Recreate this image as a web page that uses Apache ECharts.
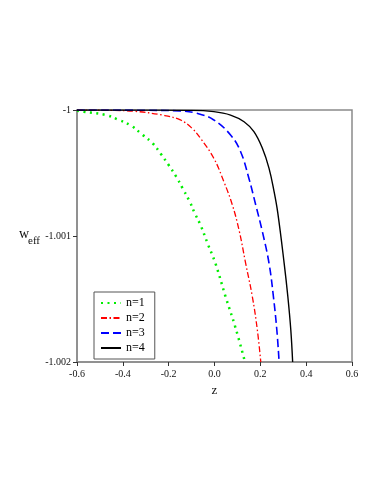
<!DOCTYPE html>
<html>
<head>
<meta charset="utf-8">
<script src="https://cdn.jsdelivr.net/npm/echarts@6/dist/echarts.min.js"></script>
<style>
  html, body { margin: 0; padding: 0; background: #fff; }
  #graph { width: 383px; height: 495px; }
</style>
</head>
<body>
<div id="graph"></div>
<script>
// values
var seriesNames = ['n=1', 'n=2', 'n=3', 'n=4'];

var z1 = [-0.6, -0.573, -0.474, -0.42, -0.364, -0.317, -0.27, -0.234, -0.2, -0.167, -0.139, -0.11, -0.086, -0.061, -0.03, 0.004, 0.048, 0.092, 0.133];
var w1 = [-1.000005, -1.000013, -1.00004, -1.000077, -1.000124, -1.000193, -1.000264, -1.000349, -1.000437, -1.000529, -1.000622, -1.00072, -1.00082, -1.000913, -1.00106, -1.001217, -1.00148, -1.00173, -1.002];

var z2 = [-0.6, -0.45, -0.35, -0.229, -0.149, -0.098, -0.061, -0.003, 0.041, 0.078, 0.107, 0.136, 0.165, 0.187, 0.202];
var w2 = [-1.0, -1.000003, -1.00001, -1.00004, -1.000079, -1.000145, -1.000225, -1.000383, -1.000569, -1.000754, -1.000952, -1.001217, -1.00148, -1.001746, -1.002];

var z3 = [-0.6, -0.3, -0.149, -0.076, -0.003, 0.07, 0.114, 0.15, 0.18, 0.209, 0.238, 0.257, 0.272, 0.282];
var w3 = [-1.0, -1.000002, -1.000008, -1.000026, -1.000079, -1.000198, -1.000331, -1.000542, -1.000754, -1.000966, -1.001217, -1.00148, -1.001746, -1.002];

var z4 = [-0.6, -0.1, -0.003, 0.07, 0.129, 0.172, 0.209, 0.238, 0.26, 0.276, 0.304, 0.32, 0.333, 0.341];
var w4 = [-1.0, -1.000003, -1.000013, -1.00004, -1.000093, -1.000172, -1.000304, -1.000463, -1.000648, -1.000815, -1.001217, -1.00148, -1.001746, -1.002];

var colors = ['#00ee00', '#ff0000', '#0000ff', '#000000'];

function pairs(zs, ws) {
  var out = [];
  for (var i = 0; i < zs.length; i++) out.push([zs[i], ws[i]]);
  return out;
}

var dom = document.getElementById('graph');
var myChart = echarts.init(dom);
var serif = 'Liberation Serif';

var option = {
  animation: false,
  color: colors,
  textStyle: { fontFamily: serif },
  grid: {
    left: 77, right: 31, top: 110, bottom: 133,
    show: true, borderColor: '#8a8a8a', borderWidth: 1.5
  },
  legend: {
    orient: 'vertical',
    left: 94, top: 292,
    padding: [5, 10, 5, 6],
    itemGap: 3,
    itemWidth: 20,
    itemHeight: 10,
    borderColor: '#555',
    borderWidth: 1,
    itemStyle: { opacity: 0 },
    textStyle: { fontFamily: serif, fontSize: 12, color: '#000' },
    data: seriesNames
  },
  xAxis: {
    type: 'value',
    min: -0.6, max: 0.6, interval: 0.2,
    name: 'z',
    nameLocation: 'middle',
    nameGap: 22,
    nameTextStyle: { fontFamily: serif, fontSize: 13, color: '#111' },
    axisLine: { onZero: false, lineStyle: { color: '#8a8a8a', width: 1.5 } },
    axisTick: { inside: false, length: 4, lineStyle: { color: '#333' } },
    axisLabel: {
      margin: 7, fontFamily: serif, fontSize: 10, color: '#111',
      formatter: function (v) { return (Math.round(v * 10) / 10).toFixed(1); }
    },
    splitLine: { show: false }
  },
  yAxis: {
    type: 'value',
    min: -1.002, max: -1, interval: 0.001,
    axisLine: { show: true, onZero: false, lineStyle: { color: '#8a8a8a', width: 1.5 } },
    axisTick: { show: true, length: 4, lineStyle: { color: '#333' } },
    axisLabel: {
      margin: 6, fontFamily: serif, fontSize: 10, color: '#111',
      formatter: function (v) { return String(parseFloat(v.toFixed(3))); }
    },
    splitLine: { show: false }
  },
  graphic: [
    { type: 'text', left: 19, top: 227, style: { text: 'w', fontFamily: serif, fontSize: 14, fill: '#111' } },
    { type: 'text', left: 28, top: 236, style: { text: 'eff', fontFamily: serif, fontSize: 11, fill: '#111' } }
  ],
  series: [
    {
      name: seriesNames[0], type: 'line', smooth: 0.4, symbol: 'none',
      lineStyle: { color: colors[0], width: 2.5, type: [2, 4.5], cap: 'butt' },
      data: pairs(z1, w1)
    },
    {
      name: seriesNames[1], type: 'line', smooth: 0.4, symbol: 'none',
      lineStyle: { color: colors[1], width: 1.3, type: [6, 2.5, 1.5, 2.5] },
      data: pairs(z2, w2)
    },
    {
      name: seriesNames[2], type: 'line', smooth: 0.4, symbol: 'none',
      lineStyle: { color: colors[2], width: 1.6, type: [8, 4] },
      data: pairs(z3, w3)
    },
    {
      name: seriesNames[3], type: 'line', smooth: 0.4, symbol: 'none',
      lineStyle: { color: colors[3], width: 1.4, type: 'solid' },
      data: pairs(z4, w4)
    }
  ]
};

myChart.setOption(option);
</script>
</body>
</html>
